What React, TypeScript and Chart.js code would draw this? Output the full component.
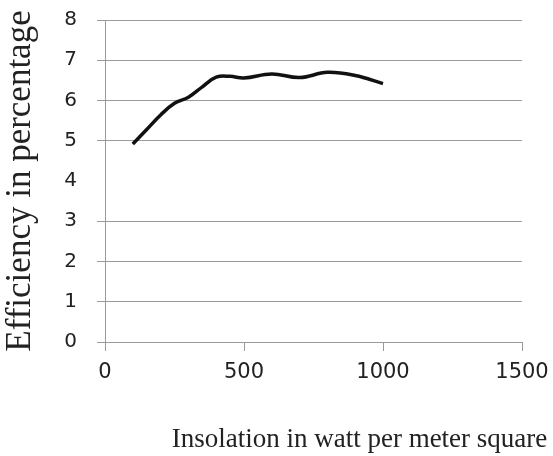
import React, { useEffect, useRef } from "react";
import { Chart, registerables } from "chart.js";

Chart.register(...registerables);

const insolation = [100, 150, 200, 250, 300, 350, 400, 450, 500, 600, 700, 800, 900, 1000];
const efficiency = [4.92, 5.28, 5.64, 5.93, 6.08, 6.34, 6.58, 6.6, 6.56, 6.66, 6.57, 6.7, 6.62, 6.42];
const xTickValues = [0, 500, 1000, 1500];
const yTickValues = [0, 1, 2, 3, 4, 5, 6, 7, 8];
const hiddenGridValues = [4];
const xTitle = "Insolation in watt per meter square";
const yTitle = "Efficiency in percentage";

const GRID = "#9a9a9a";
const TEXT = "#222222";

const xTitlePlugin = {
  id: "xTitlePlugin",
  afterDraw(chart: any) {
    const { ctx, chartArea } = chart;
    ctx.save();
    ctx.font = "27px 'Liberation Serif', 'Times New Roman', serif";
    ctx.fillStyle = TEXT;
    ctx.textAlign = "center";
    ctx.textBaseline = "middle";
    ctx.fillText(xTitle, (chartArea.left + chartArea.right) / 2 + 46, 440);
    ctx.restore();
  },
};

export default function App() {
  const ref = useRef<HTMLCanvasElement | null>(null);
  useEffect(() => {
    document.body.style.margin = "0";
    document.body.style.overflow = "hidden";
    const canvas = ref.current;
    if (!canvas) return;
    const chart = new Chart(canvas, {
      type: "line",
      data: {
        datasets: [
          {
            data: insolation.map((x, i) => ({ x, y: efficiency[i] })),
            borderColor: "#111111",
            borderWidth: 3.5,
            pointRadius: 0,
            tension: 0.4,
            fill: false,
          },
        ],
      },
      options: {
        animation: false,
        responsive: false,
        devicePixelRatio: 1,
        layout: { padding: { top: 20, right: 31, left: 0, bottom: 0 } },
        plugins: { legend: { display: false }, tooltip: { enabled: false } },
        scales: {
          x: {
            type: "linear",
            min: 0,
            max: 1500,
            afterBuildTicks: (scale: any) => {
              scale.ticks = xTickValues.map((v) => ({ value: v }));
            },
            afterFit: (scale: any) => {
              scale.height = 114;
              scale.paddingLeft = 0;
              scale.paddingRight = 0;
            },
            grid: {
              drawOnChartArea: false,
              drawTicks: true,
              tickLength: 9,
              color: GRID,
            },
            border: { color: GRID, width: 1 },
            ticks: {
              padding: 9,
              color: TEXT,
              callback: (v: any) => String(v),
              font: { family: "'DejaVu Sans', sans-serif", size: 21 },
            },
          },
          y: {
            min: 0,
            max: 8,
            afterBuildTicks: (scale: any) => {
              scale.ticks = yTickValues.map((v) => ({ value: v }));
            },
            afterFit: (scale: any) => {
              scale.width = 105;
              scale.paddingTop = 0;
              scale.paddingBottom = 0;
            },
            grid: {
              tickLength: 8,
              color: (c: any) =>
                c.tick && hiddenGridValues.includes(c.tick.value) ? "rgba(0,0,0,0)" : GRID,
            },
            border: { color: GRID, width: 1 },
            ticks: {
              padding: 20,
              color: TEXT,
              callback: (v: any) => String(v),
              font: { family: "'DejaVu Sans', sans-serif", size: 20 },
            },
            title: {
              display: true,
              text: yTitle,
              color: TEXT,
              padding: { top: 0, bottom: 0 },
              font: { family: "'Liberation Serif', 'Times New Roman', serif", size: 35 },
            },
          },
        },
      },
      plugins: [xTitlePlugin],
    });
    return () => chart.destroy();
  }, []);
  return (
    <div style={{ width: 553, height: 456 }}>
      <canvas ref={ref} width={553} height={456} />
    </div>
  );
}
